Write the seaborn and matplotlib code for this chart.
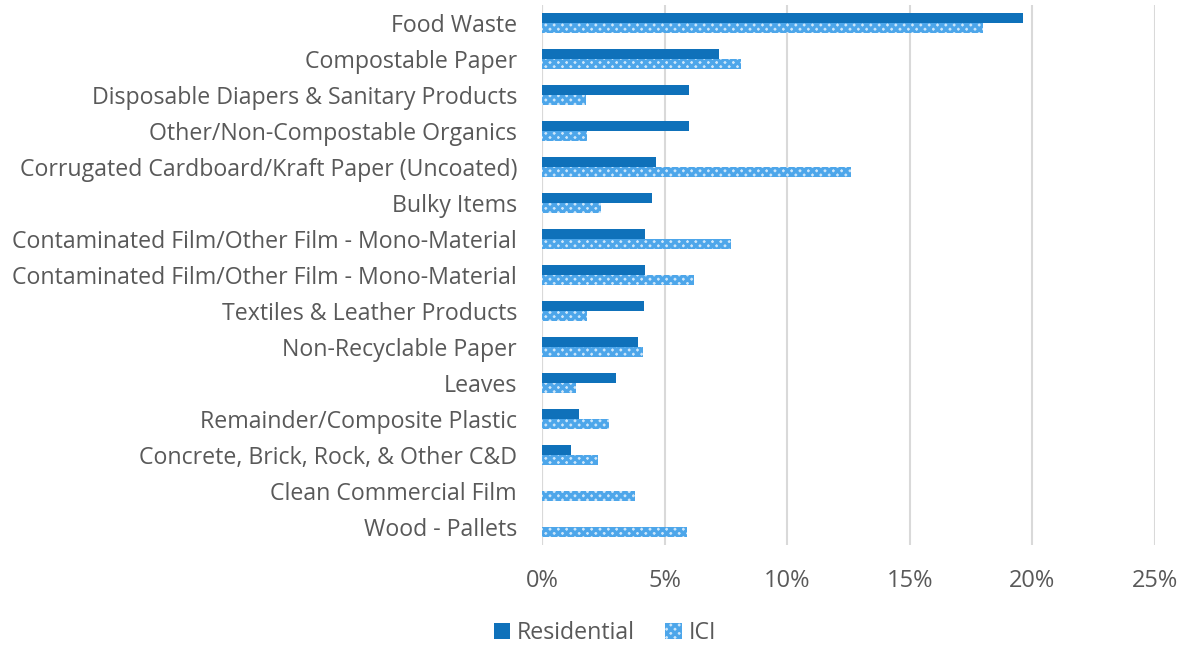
import matplotlib
matplotlib.use("Agg")
import matplotlib.pyplot as plt
import matplotlib.ticker as mticker
from matplotlib.patches import Patch
import numpy as np
import pandas as pd
import seaborn as sns

categories = [
    "Food Waste",
    "Compostable Paper",
    "Disposable Diapers & Sanitary Products",
    "Other/Non-Compostable Organics",
    "Corrugated Cardboard/Kraft Paper (Uncoated)",
    "Bulky Items",
    "Contaminated Film/Other Film - Mono-Material",
    "Contaminated Film/Other Film - Mono-Material",
    "Textiles & Leather Products",
    "Non-Recyclable Paper",
    "Leaves",
    "Remainder/Composite Plastic",
    "Concrete, Brick, Rock, & Other C&D",
    "Clean Commercial Film",
    "Wood - Pallets",
]
residential = [19.6, 7.2, 6.0, 6.0, 4.65, 4.5, 4.2, 4.2, 4.15, 3.9, 3.0, 1.5, 1.2, 0.0, 0.0]
ici = [18.0, 8.1, 1.8, 1.85, 12.6, 2.4, 7.7, 6.2, 1.85, 4.1, 1.4, 2.75, 2.3, 3.8, 5.9]
series_names = ["Residential", "ICI"]

RES_COLOR = "#0F71BA"
ICI_HATCH = "#4DA6EA"
ICI_FACE = "#CFE7FA"
TEXT = "#595959"

# Categories repeat, so rows are keyed by position and labelled afterwards
keys = [f"c{i:02d}" for i in range(len(categories))]
df = pd.DataFrame({
    "key": keys * 2,
    "series": [series_names[0]] * len(keys) + [series_names[1]] * len(keys),
    "value": residential + ici,
})

sns.set_theme(style="white")
plt.rcParams["font.family"] = ["Open Sans", "DejaVu Sans"]
plt.rcParams["hatch.linewidth"] = 2.4

fig = plt.figure(figsize=(11.82, 6.46), dpi=100)
ax = fig.add_axes([542 / 1182, 1 - 545 / 646, (1155 - 542) / 1182, (545 - 5) / 646])

sns.barplot(data=df, x="value", y="key", hue="series", order=keys,
            hue_order=series_names, palette=[RES_COLOR, "white"],
            orient="h", width=0.53, gap=0, saturation=1, errorbar=None,
            legend=False, ax=ax)

n = len(keys)
for i, bar in enumerate(ax.patches[:2 * n]):
    if i < n:
        bar.set_facecolor(RES_COLOR)
        bar.set_edgecolor("none")
    else:
        bar.set_facecolor(ICI_FACE)
        bar.set_edgecolor(ICI_HATCH)
        bar.set_hatch("xxxx")
        bar.set_linewidth(0)

ax.set_xlim(0, 25)
ax.set_ylim(n - 0.5, -0.5)
ax.xaxis.set_major_locator(mticker.MultipleLocator(5))
ax.xaxis.set_major_formatter(mticker.FuncFormatter(lambda v, p: f"{v:.0f}%"))
ax.set_yticks(range(n))
ax.set_yticklabels(categories)
ax.set_xlabel("")
ax.set_ylabel("")
ax.grid(axis="x", color="#D9D9D9", linewidth=1.5)
ax.set_axisbelow(True)
for s in ax.spines.values():
    s.set_visible(False)
ax.axvline(0, color="#D9D9D9", linewidth=1.5, zorder=0)
ax.tick_params(axis="y", length=0, pad=18, labelsize=16.7, labelcolor=TEXT)
ax.tick_params(axis="x", length=0, pad=17, labelsize=17, labelcolor=TEXT)
for lbl in ax.get_yticklabels():
    lbl.set_y(lbl.get_position()[1])

handles = [
    Patch(facecolor=RES_COLOR, edgecolor="none", label=series_names[0]),
    Patch(facecolor=ICI_FACE, edgecolor=ICI_HATCH, hatch="xxxx", linewidth=0,
          label=series_names[1]),
]
fig.legend(handles=handles, loc="center", bbox_to_anchor=(605 / 1182, 1 - 633 / 646),
           ncol=2, frameon=False, fontsize=16.7, labelcolor=TEXT,
           handlelength=0.7, handleheight=0.7, handletextpad=0.3, columnspacing=1.3)

fig.savefig("out.png", dpi=100, facecolor="white")
